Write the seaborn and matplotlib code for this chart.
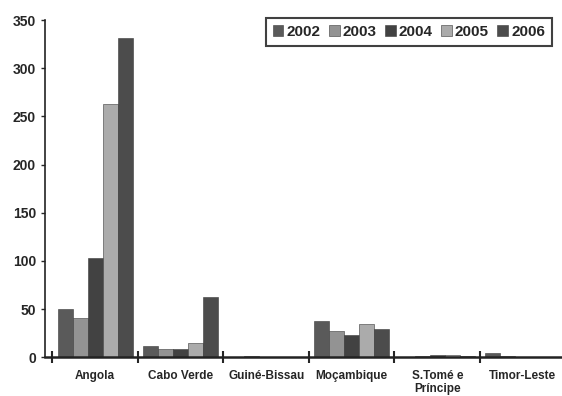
import pandas as pd
import matplotlib.pyplot as plt
import seaborn as sns

countries = ["Angola", "Cabo Verde", "Guiné-Bissau", "Moçambique",
             "S.Tomé e\nPríncipe", "Timor-Leste"]
years = ["2002", "2003", "2004", "2005", "2006"]
v2002 = [50, 12, 0.5, 38, 0.5, 4]
v2003 = [41, 8, 1, 27, 1, 1]
v2004 = [103, 8, 0.3, 23, 2, 0.5]
v2005 = [263, 15, 0.3, 34, 2, 0.5]
v2006 = [332, 62, 0.3, 29, 1, 0.5]

rows = []
for yr, vals in zip(years, [v2002, v2003, v2004, v2005, v2006]):
    for c, v in zip(countries, vals):
        rows.append({"Country": c, "Year": yr, "Value": v})
df = pd.DataFrame(rows)

sns.set_style("white")
plt.rcParams["font.family"] = ["Liberation Sans", "DejaVu Sans"]

palette = ["#5a5a5a", "#939393", "#424242", "#ababab", "#4c4c4c"]

fig = plt.figure(figsize=(5.62, 3.96), dpi=100)
ax = fig.add_axes([0.08, 0.098, 0.92, 0.851])
sns.barplot(data=df, x="Country", y="Value", hue="Year", palette=palette,
            width=0.88, saturation=1, ax=ax, edgecolor="#3a3a3a", linewidth=0.4)

ax.set_xlim(-0.588, 5.459)
ax.set_ylim(0, 350)
ax.set_yticks(range(0, 351, 50))
ax.set_xlabel("")
ax.set_ylabel("")
sns.despine(ax=ax, top=True, right=True)
ax.spines["left"].set_linewidth(1.2)
ax.spines["bottom"].set_linewidth(1.8)
ax.spines["left"].set_color("#222222")
ax.spines["bottom"].set_color("#222222")

ax.tick_params(axis="y", direction="out", length=3, width=1, left=True,
               labelsize=10)
ax.tick_params(axis="x", which="major", length=0, labelsize=8.5, pad=9)
ax.set_xticks([i - 0.5 for i in range(6)], minor=True)
ax.tick_params(axis="x", which="minor", direction="inout", length=8, width=1.5,
               bottom=True)
for lab in ax.get_yticklabels() + ax.get_xticklabels():
    lab.set_fontweight("bold")

leg = ax.legend(loc="upper right", bbox_to_anchor=(0.995, 1.03), ncol=5,
                frameon=True, fancybox=False, handlelength=0.7,
                handleheight=0.8, handletextpad=0.2, columnspacing=0.55,
                borderpad=0.45, prop={"size": 11, "weight": "bold"})
leg.get_frame().set_edgecolor("#111111")
leg.get_frame().set_linewidth(1.5)

fig.savefig("out.png", dpi=100)
